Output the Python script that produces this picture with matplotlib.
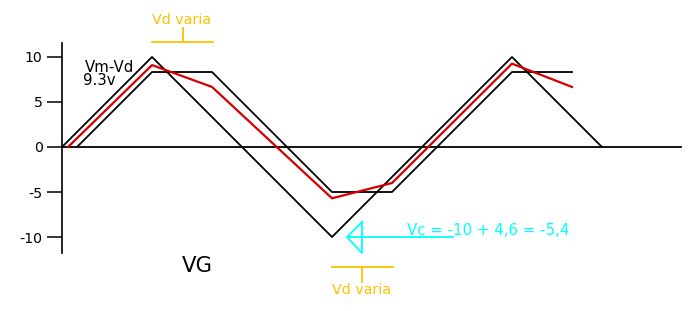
import matplotlib
matplotlib.use("Agg")
import matplotlib.pyplot as plt

plt.rcParams['axes.unicode_minus'] = False

# triangle input wave
vg_t = [0, 1, 3, 5, 6]
vg_v = [0, 10, -10, 10, 0]

# clipped wave
clip_t = [0.167, 1, 1.667, 3, 3.667, 5, 5.667]
clip_v = [0, 8.33, 8.33, -5, -5, 8.33, 8.33]

# red output wave
out_t = [0.067, 1, 1.667, 3, 3.667, 5, 5.667]
out_v = [0, 9.1, 6.67, -5.7, -4.0, 9.26, 6.67]

yticks = [10, 5, 0, -5, -10]

fig = plt.figure(figsize=(6.97, 3.11), dpi=100)
ax = fig.add_axes([0, 0, 1, 1])
ax.set_xlim(-0.689, 7.056)
ax.set_ylim(-18.22, 16.33)

for s in ['top', 'right', 'bottom']:
    ax.spines[s].set_visible(False)
ax.spines['left'].set_position(('data', 0))
ax.spines['left'].set_bounds(-11.78, 11.56)
ax.spines['left'].set_linewidth(1.2)
ax.set_xticks([])
ax.set_yticks(yticks)
ax.tick_params(axis='y', length=10.5, width=1.1, pad=3.5, labelsize=10.2)

# zero line
ax.plot([0, 6.88], [0, 0], color='black', lw=1.3)

ax.plot(vg_t, vg_v, color='black', lw=1.3)
ax.plot(clip_t, clip_v, color='black', lw=1.3)
ax.plot(out_t, out_v, color='#d40000', lw=1.6)

orange = '#ffc000'
cyan = '#00ffff'

# top "Vd varia" marker
ax.plot([1, 1.678], [11.67, 11.67], color=orange, lw=1.3)
ax.plot([1.344, 1.344], [11.67, 13.22], color=orange, lw=1.3)
ax.text(1.333, 14.15, 'Vd varia', color=orange, fontsize=10.3, ha='center', va='center')

# bottom "Vd varia" marker
ax.plot([3, 3.678], [-13.33, -13.33], color=orange, lw=1.3)
ax.plot([3.333, 3.333], [-13.33, -15], color=orange, lw=1.3)
ax.text(3.333, -15.9, 'Vd varia', color=orange, fontsize=10.3, ha='center', va='center')

# cyan arrow
ax.plot([3.333, 3.167, 3.333, 3.333], [-8.33, -10, -11.78, -8.33], color=cyan, lw=1.3)
ax.plot([3.167, 4.344], [-10, -10], color=cyan, lw=1.3)
ax.text(3.833, -9.3, 'Vc = -10 + 4,6 = -5,4', color=cyan, fontsize=10.8, ha='left', va='center')

ax.text(0.256, 8.78, 'Vm-Vd', fontsize=10.8, ha='left', va='center')
ax.text(0.233, 7.4, '9.3v', fontsize=10.8, ha='left', va='center')
ax.text(1.5, -13.22, 'VG', fontsize=15.3, ha='center', va='center')

fig.savefig('out.png', dpi=100)
